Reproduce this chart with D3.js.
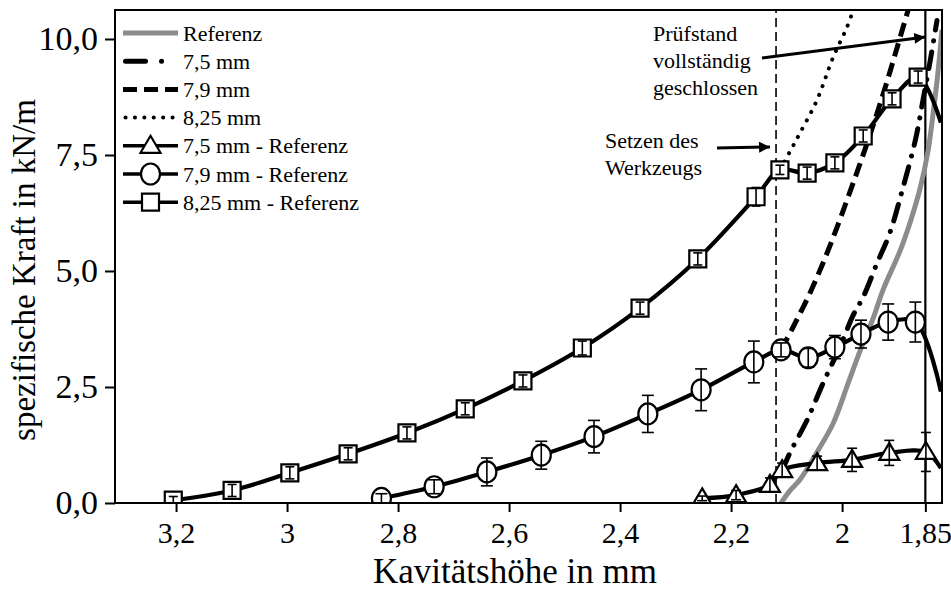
<!DOCTYPE html>
<html>
<head>
<meta charset="utf-8">
<script src="https://cdn.jsdelivr.net/npm/d3@7"></script>
<style>
  body { margin: 0; background: #fff; }
  svg { display: block; }
  text { font-family: "Liberation Serif", "Times New Roman", serif; fill: #000; }
</style>
</head>
<body>
<svg id="chart" width="951" height="590"></svg>
<script>
// Axis ticks
const xTicks = [3.2, 3, 2.8, 2.6, 2.4, 2.2, 2, 1.85];
const xTickLabels = ["3,2", "3", "2,8", "2,6", "2,4", "2,2", "2", "1,85"];
const yTicks = [0, 2.5, 5, 7.5, 10];
const yTickLabels = ["0,0", "2,5", "5,0", "7,5", "10,0"];

// Simulated force curves (Kavitätshöhe in mm, Kraft in kN/m)
const refX = [2.11, 2.095, 2.076, 2.045, 2.016, 1.99, 1.967, 1.945, 1.926, 1.895, 1.876, 1.859, 1.845, 1.836, 1.828, 1.82];
const refY = [0, 0.25, 0.5, 1.1, 1.72, 2.55, 3.3, 3.95, 4.6, 5.45, 6.1, 6.8, 7.6, 8.4, 9.2, 10.2];
const sim75X = [2.108, 2.094, 2.063, 2.034, 2.004, 1.98, 1.962, 1.937, 1.914, 1.89, 1.868, 1.854, 1.841, 1.829];
const sim75Y = [0.7, 1.08, 1.79, 2.59, 3.36, 4.05, 4.44, 5.17, 5.82, 6.81, 7.82, 8.7, 9.55, 10.4];
const sim79X = [2.11, 2.09, 2.055, 2.02, 1.986, 1.955, 1.925, 1.9, 1.878];
const sim79Y = [3.3, 3.75, 4.6, 5.6, 6.7, 7.75, 8.85, 9.85, 10.75];
const sim825X = [2.112, 2.095, 2.076, 2.045, 2.016, 1.991, 1.975];
const sim825Y = [7.18, 7.55, 7.97, 8.69, 9.61, 10.26, 10.8];

// Reference measurements with standard deviation
const tri75X = [2.252, 2.191, 2.13, 2.108, 2.045, 1.982, 1.915, 1.849];
const tri75Y = [0.1, 0.17, 0.39, 0.71, 0.86, 0.93, 1.08, 1.1];
const tri75Err = [0.05, 0.1, 0.15, 0.15, 0.15, 0.25, 0.27, 0.42];
const tri75TailX = [1.822];
const tri75TailY = [0.75];

const cir79X = [2.83, 2.735, 2.64, 2.542, 2.447, 2.35, 2.254, 2.159, 2.11, 2.061, 2.013, 1.966, 1.917, 1.868];
const cir79Y = [0.1, 0.35, 0.67, 1.03, 1.43, 1.92, 2.44, 3.04, 3.3, 3.13, 3.36, 3.64, 3.9, 3.9];
const cir79Err = [0.1, 0.15, 0.3, 0.3, 0.35, 0.4, 0.45, 0.45, 0.15, 0.2, 0.25, 0.3, 0.39, 0.43];
const cir79TailX = [1.822];
const cir79TailY = [2.4];

const sq825X = [3.205, 3.099, 2.995, 2.89, 2.784, 2.679, 2.575, 2.468, 2.364, 2.26, 2.155, 2.112, 2.063, 2.013, 1.962, 1.91, 1.863];
const sq825Y = [0.06, 0.27, 0.65, 1.06, 1.51, 2.03, 2.63, 3.34, 4.2, 5.26, 6.6, 7.18, 7.11, 7.33, 7.91, 8.71, 9.18];
const sq825Err = [0.08, 0.13, 0.13, 0.13, 0.13, 0.13, 0.13, 0.15, 0.13, 0.13, 0.2, 0.1, 0.13, 0.13, 0.13, 0.13, 0.13];
const sq825TailX = [1.822];
const sq825TailY = [8.2];

// Event markers
const toolSetX = 2.119;      // Setzen des Werkzeugs
const closedX = 1.85;        // Prüfstand vollständig geschlossen

const legendLabels = ["Referenz", "7,5 mm", "7,9 mm", "8,25 mm", "7,5 mm - Referenz", "7,9 mm - Referenz", "8,25 mm - Referenz"];

const svg = d3.select("#chart");
const margin = { left: 115, right: 9, top: 10, bottom: 87 };
const W = 951, H = 590;
const x = d3.scaleLinear().domain([3.31, 1.82]).range([margin.left, W - margin.right]);
const y = d3.scaleLinear().domain([0, 10.625]).range([H - margin.bottom, margin.top]);

const zip = (xs, ys) => xs.map((v, i) => [v, ys[i]]);

const defs = svg.append("defs");
defs.append("clipPath").attr("id", "plotClip")
  .append("rect")
  .attr("x", x.range()[0]).attr("y", y.range()[1])
  .attr("width", x.range()[1] - x.range()[0])
  .attr("height", y.range()[0] - y.range()[1]);
defs.append("marker").attr("id", "arrowHead")
  .attr("viewBox", "0 0 10 10").attr("refX", 10).attr("refY", 5)
  .attr("markerWidth", 16).attr("markerHeight", 11)
  .attr("markerUnits", "userSpaceOnUse").attr("orient", "auto")
  .append("path").attr("d", "M0,0 L10,5 L0,10 Z").attr("fill", "#000");

const plot = svg.append("g").attr("clip-path", "url(#plotClip)");

// Event lines
plot.append("line")
  .attr("x1", x(toolSetX)).attr("x2", x(toolSetX))
  .attr("y1", y.range()[0]).attr("y2", y.range()[1])
  .attr("stroke", "#000").attr("stroke-width", 1.6).attr("stroke-dasharray", "9,5");
plot.append("line")
  .attr("x1", x(closedX)).attr("x2", x(closedX))
  .attr("y1", y.range()[0]).attr("y2", y.range()[1])
  .attr("stroke", "#000").attr("stroke-width", 2.2);

const smooth = d3.line().x(d => x(d[0])).y(d => y(d[1])).curve(d3.curveCatmullRom.alpha(0.5));

// Simulation curves
const simStyles = [
  { data: zip(refX, refY), color: "#8c8c8c", width: 5, dash: null, legendDash: null, cap: "butt" },
  { data: zip(sim75X, sim75Y), color: "#000", width: 5, dash: "17,11,0.1,11", legendDash: "20,16,0.1,40", cap: "round" },
  { data: zip(sim79X, sim79Y), color: "#000", width: 5, dash: "14,7", legendDash: "14,7", cap: "butt" },
  { data: zip(sim825X, sim825Y), color: "#000", width: 4, dash: "0.1,9.3", legendDash: "0.1,9.3", cap: "round" }
];
simStyles.forEach(s => {
  plot.append("path").attr("d", smooth(s.data))
    .attr("fill", "none").attr("stroke", s.color).attr("stroke-width", s.width)
    .attr("stroke-dasharray", s.dash).attr("stroke-linecap", s.cap);
});

// Marker shapes
const shapes = {
  triangle: "M0,-10 L10,7 L-10,7 Z",
  circle: "M-9.5,0 A9.5,10.5 0 1,0 9.5,0 A9.5,10.5 0 1,0 -9.5,0 Z",
  square: "M-8.5,-8.5 H8.5 V8.5 H-8.5 Z"
};

const series = [
  { xs: tri75X, ys: tri75Y, err: tri75Err, tx: tri75TailX, ty: tri75TailY, shape: "triangle", cap: 10 },
  { xs: cir79X, ys: cir79Y, err: cir79Err, tx: cir79TailX, ty: cir79TailY, shape: "circle", cap: 12 },
  { xs: sq825X, ys: sq825Y, err: sq825Err, tx: sq825TailX, ty: sq825TailY, shape: "square", cap: 9 }
];

series.forEach(s => {
  const pts = zip(s.xs, s.ys).concat(zip(s.tx, s.ty));
  plot.append("path").attr("d", smooth(pts))
    .attr("fill", "none").attr("stroke", "#000").attr("stroke-width", 4.2)
    .attr("stroke-linejoin", "round");
});

series.forEach(s => {
  const g = plot.append("g");
  const pts = s.xs.map((v, i) => ({ x: v, y: s.ys[i], e: s.err[i] }));
  g.selectAll("path.mk").data(pts).join("path").attr("class", "mk")
    .attr("d", shapes[s.shape])
    .attr("transform", d => `translate(${x(d.x)},${y(d.y)})`)
    .attr("fill", "#fff").attr("stroke", "#000").attr("stroke-width", 2.2);
  const eb = g.selectAll("g.eb").data(pts).join("g").attr("class", "eb")
    .attr("stroke", "#000").attr("stroke-width", 1.6);
  eb.append("line")
    .attr("x1", d => x(d.x)).attr("x2", d => x(d.x))
    .attr("y1", d => y(d.y - d.e)).attr("y2", d => y(d.y + d.e));
  eb.append("line")
    .attr("x1", d => x(d.x) - s.cap / 2).attr("x2", d => x(d.x) + s.cap / 2)
    .attr("y1", d => y(d.y + d.e)).attr("y2", d => y(d.y + d.e));
  eb.append("line")
    .attr("x1", d => x(d.x) - s.cap / 2).attr("x2", d => x(d.x) + s.cap / 2)
    .attr("y1", d => y(d.y - d.e)).attr("y2", d => y(d.y - d.e));
});

// Axes
const xAxis = d3.axisBottom(x).tickValues(xTicks)
  .tickFormat((d, i) => xTickLabels[i]).tickSize(9).tickSizeOuter(0).tickPadding(10);
const yAxis = d3.axisLeft(y).tickValues(yTicks)
  .tickFormat((d, i) => yTickLabels[i]).tickSize(10).tickSizeOuter(0).tickPadding(7);

const gx = svg.append("g").attr("transform", `translate(0,${y.range()[0]})`).call(xAxis);
const gy = svg.append("g").attr("transform", `translate(${x.range()[0]},0)`).call(yAxis);
[gx, gy].forEach(g => {
  g.select(".domain").remove();
  g.selectAll(".tick line").attr("stroke", "#000").attr("stroke-width", 2);
  g.selectAll(".tick text").attr("font-family", "Liberation Serif, serif").attr("fill", "#000");
});
gx.selectAll(".tick text").attr("font-size", 30);
gy.selectAll(".tick text").attr("font-size", 34);

// Frame
svg.append("rect")
  .attr("x", x.range()[0]).attr("y", y.range()[1])
  .attr("width", x.range()[1] - x.range()[0])
  .attr("height", y.range()[0] - y.range()[1])
  .attr("fill", "none").attr("stroke", "#000").attr("stroke-width", 2);

// Axis titles
svg.append("text").attr("x", 515).attr("y", 583)
  .attr("text-anchor", "middle").attr("font-size", 35).text("Kavitätshöhe in mm");
svg.append("text").attr("transform", `translate(35,270) rotate(-90)`)
  .attr("text-anchor", "middle").attr("font-size", 33).text("spezifische Kraft in kN/m");

// Annotations
const ann = svg.append("g").attr("font-size", 22);
[["Prüfstand", 41], ["vollständig", 68], ["geschlossen", 95]].forEach(([t, by]) =>
  ann.append("text").attr("x", 653).attr("y", by).text(t));
[["Setzen des", 148], ["Werkzeugs", 175]].forEach(([t, by]) =>
  ann.append("text").attr("x", 605).attr("y", by).text(t));
svg.append("line").attr("x1", 762).attr("y1", 58).attr("x2", x(closedX)).attr("y2", 37)
  .attr("stroke", "#000").attr("stroke-width", 3).attr("marker-end", "url(#arrowHead)");
svg.append("line").attr("x1", 717).attr("y1", 148).attr("x2", x(toolSetX) - 6).attr("y2", 147)
  .attr("stroke", "#000").attr("stroke-width", 3).attr("marker-end", "url(#arrowHead)");

// Legend
const legend = svg.append("g");
const lx0 = 123, lx1 = 178, rowH = 28.2, row0 = 33;
legendLabels.forEach((label, i) => {
  const ry = row0 + i * rowH;
  const g = legend.append("g");
  if (i < 4) {
    const s = simStyles[i];
    g.append("line").attr("x1", lx0 + (s.cap === "round" ? 2.5 : 0)).attr("x2", lx1).attr("y1", ry).attr("y2", ry)
      .attr("stroke", s.color).attr("stroke-width", s.width)
      .attr("stroke-dasharray", s.legendDash).attr("stroke-linecap", s.cap);
  } else {
    const s = series[i - 4];
    g.append("line").attr("x1", lx0).attr("x2", lx1).attr("y1", ry).attr("y2", ry)
      .attr("stroke", "#000").attr("stroke-width", 3.5);
    g.append("path").attr("d", shapes[s.shape])
      .attr("transform", `translate(${(lx0 + lx1) / 2},${ry})`)
      .attr("fill", "#fff").attr("stroke", "#000").attr("stroke-width", 2.2);
  }
  g.append("text").attr("x", lx1 + 5).attr("y", ry + 7.5).attr("font-size", 22).text(label);
});
</script>
</body>
</html>
